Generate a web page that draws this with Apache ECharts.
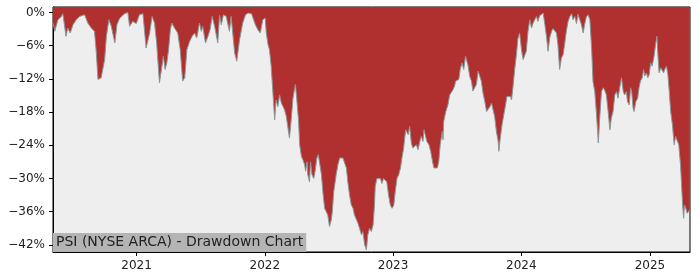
<!DOCTYPE html>
<html>
<head>
<meta charset="utf-8">
<script src="https://cdn.jsdelivr.net/npm/echarts@6/dist/echarts.min.js"></script>
<style>html,body{margin:0;padding:0;background:#fff}#c{width:700px;height:280px}</style>
</head>
<body>
<div id="c"></div>
<script>
const chartTitle = 'PSI (NYSE ARCA) - Drawdown Chart';
const yTicks = [0, -6, -12, -18, -24, -30, -36, -42];
const xTickDates = ['2021-01-01', '2022-01-01', '2023-01-01', '2024-01-01', '2025-01-01'];
const xRange = ['2020-05-08', '2025-04-25'];
const dates = [
'2020-05-08','2020-05-13','2020-05-22','2020-06-01','2020-06-05','2020-06-14','2020-06-19','2020-06-26','2020-07-04','2020-07-13',
'2020-07-23','2020-08-06','2020-08-15','2020-08-25','2020-09-03','2020-09-08','2020-09-13','2020-09-22','2020-10-02','2020-10-07',
'2020-10-14','2020-10-21','2020-10-31','2020-11-06','2020-11-14','2020-11-28','2020-12-07','2020-12-12','2020-12-21','2020-12-31',
'2021-01-09','2021-01-19','2021-01-28','2021-02-07','2021-02-14','2021-02-21','2021-02-27','2021-03-07','2021-03-14','2021-03-18',
'2021-03-23','2021-03-28','2021-04-02','2021-04-07','2021-04-11','2021-04-19','2021-04-28','2021-05-05','2021-05-12','2021-05-18',
'2021-05-24','2021-06-01','2021-06-08','2021-06-15','2021-06-21','2021-06-29','2021-07-04','2021-07-08','2021-07-16','2021-07-23',
'2021-07-29','2021-08-04','2021-08-11','2021-08-20','2021-08-25','2021-08-30','2021-09-05','2021-09-13','2021-09-18','2021-09-22',
'2021-09-27','2021-10-07','2021-10-13','2021-10-21','2021-10-30','2021-11-07','2021-11-14','2021-11-18','2021-11-24','2021-11-30',
'2021-12-05','2021-12-12','2021-12-19','2021-12-26','2022-01-02','2022-01-05','2022-01-10','2022-01-14','2022-01-19','2022-01-24',
'2022-01-29','2022-02-02','2022-02-07','2022-02-12','2022-02-17','2022-02-21','2022-02-26','2022-03-03','2022-03-07','2022-03-12',
'2022-03-17','2022-03-22','2022-03-27','2022-03-29','2022-04-02','2022-04-07','2022-04-10','2022-04-15','2022-04-19','2022-04-24',
'2022-04-27','2022-05-01','2022-05-03','2022-05-08','2022-05-11','2022-05-15','2022-05-20','2022-05-24','2022-05-29','2022-06-02',
'2022-06-06','2022-06-11','2022-06-15','2022-06-20','2022-06-25','2022-06-29','2022-07-04','2022-07-09','2022-07-12','2022-07-16',
'2022-07-23','2022-07-28','2022-08-02','2022-08-07','2022-08-11','2022-08-16','2022-08-21','2022-08-25','2022-08-30','2022-09-04',
'2022-09-09','2022-09-13','2022-09-18','2022-09-23','2022-09-28','2022-10-03','2022-10-07','2022-10-12','2022-10-17','2022-10-21',
'2022-10-26','2022-10-31','2022-11-05','2022-11-09','2022-11-11','2022-11-16','2022-11-21','2022-11-26','2022-11-30','2022-12-05',
'2022-12-10','2022-12-14','2022-12-19','2022-12-24','2022-12-29','2023-01-03','2023-01-07','2023-01-12','2023-01-17','2023-01-22',
'2023-01-26','2023-01-31','2023-02-03','2023-02-06','2023-02-09','2023-02-13','2023-02-17','2023-02-22','2023-02-26','2023-03-03',
'2023-03-08','2023-03-13','2023-03-18','2023-03-22','2023-03-27','2023-03-30','2023-04-04','2023-04-07','2023-04-13','2023-04-18',
'2023-04-23','2023-04-27','2023-05-02','2023-05-07','2023-05-11','2023-05-15','2023-05-18','2023-05-21','2023-05-23','2023-05-25',
'2023-05-31','2023-06-06','2023-06-11','2023-06-16','2023-06-20','2023-06-25','2023-06-28','2023-07-02','2023-07-07','2023-07-11',
'2023-07-16','2023-07-21','2023-07-26','2023-07-30','2023-08-02','2023-08-07','2023-08-12','2023-08-16','2023-08-21','2023-08-26',
'2023-08-31','2023-09-04','2023-09-09','2023-09-14','2023-09-19','2023-09-24','2023-09-28','2023-10-03','2023-10-08','2023-10-12',
'2023-10-17','2023-10-22','2023-10-27','2023-10-29','2023-11-02','2023-11-07','2023-11-12','2023-11-17','2023-11-21','2023-11-26',
'2023-12-01','2023-12-04','2023-12-08','2023-12-13','2023-12-18','2023-12-22','2023-12-27','2024-01-02','2024-01-06','2024-01-11',
'2024-01-15','2024-01-20','2024-01-25','2024-01-30','2024-02-03','2024-02-08','2024-02-13','2024-02-17','2024-02-22','2024-02-27',
'2024-03-03','2024-03-08','2024-03-13','2024-03-17','2024-03-22','2024-03-27','2024-03-31','2024-04-05','2024-04-10','2024-04-14',
'2024-04-19','2024-04-24','2024-04-29','2024-05-03','2024-05-08','2024-05-13','2024-05-18','2024-05-23','2024-05-27','2024-06-01',
'2024-06-06','2024-06-10','2024-06-15','2024-06-20','2024-06-25','2024-06-29','2024-07-04','2024-07-09','2024-07-14','2024-07-19',
'2024-07-23','2024-07-28','2024-08-02','2024-08-05','2024-08-07','2024-08-11','2024-08-16','2024-08-21','2024-08-25','2024-08-30',
'2024-09-04','2024-09-09','2024-09-13','2024-09-18','2024-09-23','2024-09-28','2024-10-02','2024-10-07','2024-10-12','2024-10-17',
'2024-10-21','2024-10-26','2024-10-29','2024-11-03','2024-11-07','2024-11-10','2024-11-14','2024-11-17','2024-11-22','2024-11-27',
'2024-12-01','2024-12-05','2024-12-10','2024-12-14','2024-12-17','2024-12-22','2024-12-26','2024-12-30','2025-01-03','2025-01-07',
'2025-01-12','2025-01-17','2025-01-21','2025-01-23','2025-01-27','2025-02-01','2025-02-05','2025-02-09','2025-02-12','2025-02-17',
'2025-02-21','2025-02-25','2025-03-01','2025-03-06','2025-03-11','2025-03-15','2025-03-20','2025-03-24','2025-03-29','2025-04-01',
'2025-04-04','2025-04-07','2025-04-09','2025-04-13','2025-04-17','2025-04-21','2025-04-24'
];
const drawdown = [
-1.9,-3.4,-1.3,-0.7,-0.2,-4.3,-2.8,-3.7,-2.2,-1.3,
-0.7,-0.4,-1.9,-2.8,-3.4,-7.0,-12.1,-11.8,-8.5,-4.3,
-1.3,-2.5,-5.5,-2.2,-1.0,-0.2,0,-2.5,-1.6,-2.0,
-0.4,-0.2,-6.4,-3.7,-0.7,-1.9,-5.5,-12.7,-9.7,-7.9,
-10.3,-9.1,-6.7,-3.1,-1.9,-2.8,-3.7,-6.7,-12.4,-11.8,
-6.7,-5.2,-4.3,-3.7,-4.6,-1.9,-3.4,-2.5,-5.5,-4.3,
-3.1,-0.7,-2.5,-5.5,-0.5,-2.2,-0.4,-0.7,-0.4,-3.4,
-0.7,-7.3,-8.8,-4.9,-1.9,-0.4,-0.1,-0.4,-0.2,-1.3,
-2.2,-3.1,-3.7,-1.3,-1.0,-3.7,-5.8,-6.7,-9.7,-14.6,
-19.4,-15.8,-17.0,-14.9,-16.4,-16.9,-17.6,-18.8,-20.5,-22.7,
-19.4,-15.5,-13.6,-13.0,-15.8,-19.7,-23.9,-26.0,-26.6,-27.5,
-28.7,-27.0,-29.3,-30.6,-27.0,-29.3,-30.0,-28.7,-26.3,-25.7,
-25.7,-29.3,-32.4,-35.4,-35.1,-36.6,-38.7,-37.5,-36.0,-32.4,
-29.3,-27.5,-26.3,-26.0,-26.3,-26.0,-28.1,-30.6,-33.0,-34.8,
-35.4,-36.6,-36.3,-38.1,-37.8,-40.2,-39.6,-42.0,-42.9,-40.2,
-39.0,-39.6,-38.4,-34.8,-31.5,-30.0,-30.3,-30.0,-30.9,-30.0,
-29.7,-30.6,-33.0,-34.8,-35.4,-34.8,-32.4,-30.0,-29.3,-28.1,
-26.3,-24.5,-22.7,-21.2,-21.5,-22.1,-20.6,-23.6,-24.5,-24.2,
-23.9,-24.8,-23.3,-22.4,-23.3,-21.2,-21.5,-23.3,-23.9,-25.1,
-26.9,-28.1,-28.4,-28.1,-26.9,-23.9,-22.7,-21.5,-23.0,-19.7,
-17.9,-16.7,-14.9,-14.6,-14.0,-13.3,-12.4,-12.7,-12.1,-10.3,
-9.1,-10.3,-7.9,-7.7,-9.5,-11.5,-12.4,-14.2,-14.0,-13.0,
-10.6,-10.3,-12.4,-14.6,-16.1,-17.9,-17.6,-17.1,-16.4,-16.7,
-18.8,-21.5,-23.3,-25.1,-22.7,-20.3,-18.5,-16.7,-15.2,-14.9,
-15.2,-15.8,-13.6,-10.3,-7.6,-4.8,-3.7,-7.0,-8.5,-8.2,
-7.0,-3.4,-1.3,-2.8,-2.0,-1.3,-0.7,-1.6,-0.6,-0.6,
-0.1,-2.2,-4.6,-7.0,-4.5,-3.4,-2.9,-3.0,-3.7,-5.8,
-10.3,-8.2,-7.6,-5.8,-3.4,-1.6,-0.7,-0.2,-1.3,-0.7,
-2.0,-0.3,-0.2,-2.2,-3.7,-2.2,-0.8,-0.4,-1.3,-6.5,
-12.5,-14.3,-18.5,-21.5,-23.6,-19.1,-14.3,-13.6,-14.0,-14.9,
-17.9,-21.2,-19.1,-17.9,-14.9,-14.3,-15.5,-13.6,-11.8,-14.3,
-14.9,-14.3,-16.1,-16.7,-13.6,-14.3,-17.3,-17.9,-16.1,-15.5,
-13.6,-12.4,-11.8,-10.3,-11.5,-10.9,-11.8,-11.2,-9.1,-9.7,
-8.2,-5.8,-4.3,-7.0,-10.9,-10.0,-9.7,-10.9,-10.3,-9.7,
-11.2,-14.3,-17.9,-20.3,-23.9,-22.4,-22.1,-23.9,-27.5,-31.2,
-34.8,-37.2,-34.8,-35.4,-36.3,-36.6,-35.7
];

const toTs = s => { const p = s.split('-').map(Number); return Date.UTC(p[0], p[1] - 1, p[2]); };
const chart = echarts.init(document.getElementById('c'), null, {renderer: 'canvas'});
const seriesData = dates.map((d, i) => [toTs(d), drawdown[i]]);
const xTickValues = xTickDates.map(toTs);
const font = 'DejaVu Sans';
chart.setOption({
  animation: false,
  title: {
    text: chartTitle,
    left: 53,
    top: 233,
    padding: [2, 3, 3, 3],
    backgroundColor: '#b4b4b4',
    textStyle: {fontSize: 14, fontWeight: 'normal', color: '#222', fontFamily: font}
  },
  grid: {
    left: 53, right: 10, top: 7, bottom: 28,
    show: true, backgroundColor: '#eeeeee', borderColor: '#000', borderWidth: 1
  },
  xAxis: {
    type: 'value',
    min: toTs(xRange[0]),
    max: toTs(xRange[1]),
    axisLine: {show: true, onZero: false, lineStyle: {color: '#000', width: 1}},
    axisTick: {show: true, length: 4, lineStyle: {color: '#000'}, customValues: xTickValues},
    axisLabel: {
      customValues: xTickValues,
      margin: 8,
      fontSize: 12, color: '#222', fontFamily: font,
      formatter: v => String(new Date(v).getUTCFullYear())
    },
    splitLine: {show: false}
  },
  yAxis: {
    type: 'value',
    min: -43.3, max: 1.0,
    axisLine: {show: true, lineStyle: {color: '#000', width: 1}},
    axisTick: {show: true, length: 4, lineStyle: {color: '#000'}, customValues: yTicks},
    axisLabel: {
      customValues: yTicks,
      margin: 8,
      fontSize: 12, color: '#222', fontFamily: font,
      formatter: v => (v < 0 ? '\u2212' : '') + Math.abs(Math.round(v)) + '%'
    },
    splitLine: {show: false}
  },
  series: [{
    type: 'line',
    data: seriesData,
    showSymbol: false,
    symbol: 'none',
    lineStyle: {color: '#8c9696', width: 1},
    areaStyle: {color: '#b03030', opacity: 1, origin: 'end'},
    z: 2
  }]
});
</script>
</body>
</html>
